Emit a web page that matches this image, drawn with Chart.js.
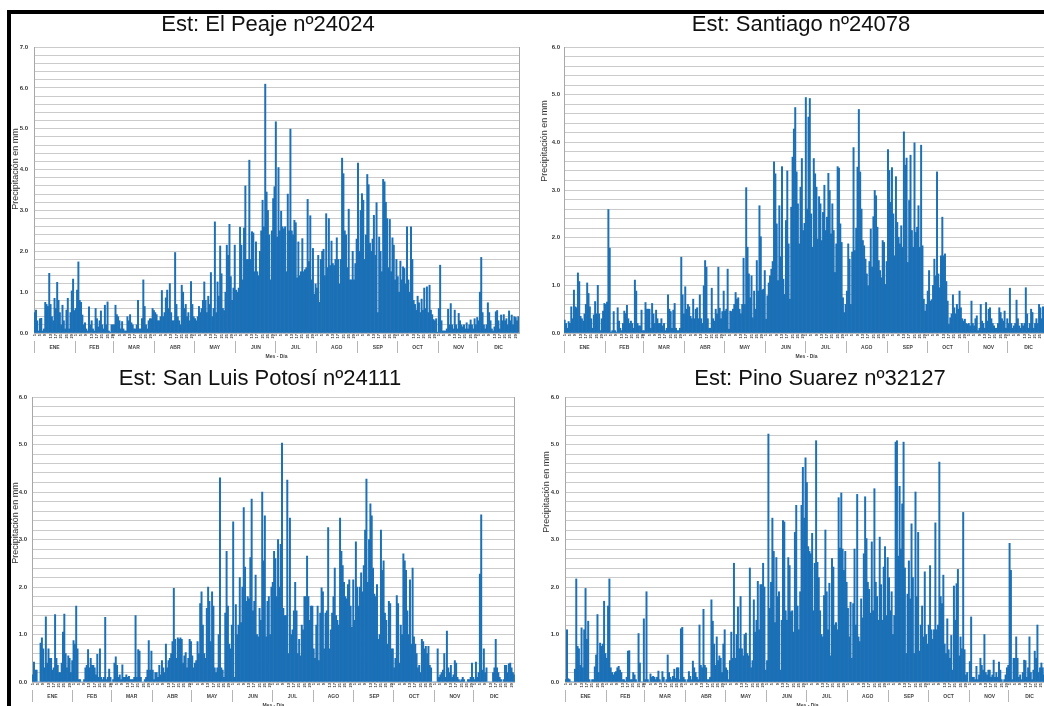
<!DOCTYPE html>
<html><head><meta charset="utf-8">
<script src="https://cdn.jsdelivr.net/npm/chart.js@4.4.1/dist/chart.umd.min.js"></script>
<style>
html,body{margin:0;padding:0;background:#fff;}
body{width:1044px;height:706px;overflow:hidden;position:relative;font-family:'Liberation Sans',Arial,sans-serif;}
canvas{position:absolute;}
.frame{position:absolute;left:7px;top:10px;width:1100px;height:800px;border-top:4px solid #000;border-left:4px solid #000;pointer-events:none;}
.ytitle{position:absolute;font-size:9px;color:#333;white-space:nowrap;transform:translate(-50%,-50%) rotate(-90deg);}
</style></head><body>
<canvas id="c1"></canvas><canvas id="c2"></canvas><canvas id="c3"></canvas><canvas id="c4"></canvas>
<div class="ytitle" id="t1">Precipitación en mm</div>
<div class="ytitle" id="t2">Precipitación en mm</div>
<div class="ytitle" id="t3">Precipitación en mm</div>
<div class="ytitle" id="t4">Precipitación en mm</div>
<div class="frame"></div>
<script>
// ---- categories ----
const monthNames = ['ENE','FEB','MAR','ABR','MAY','JUN','JUL','AGO','SEP','OCT','NOV','DIC'];
const monthLengths = [31,29,31,30,31,30,31,31,30,31,30,31];
const shownDays = [1,5,9,13,17,21,25,29];
const stationTitles = ['Est: El Peaje nº24024','Est: Santiago nº24078','Est: San Luis Potosí nº24111','Est: Pino Suarez nº32127'];
const yAxisTitle = 'Precipitación en mm';
const xAxisTitle = 'Mes - Día';
const yMaxValues = [7, 6, 6, 6];

// ---- series values (mm per day, 366 days) ----
const elPeaje = [
/*ENE*/0.5,0.56,0.3,0.05,0.35,0.36,0.05,0.1,0.75,0.7,0.65,1.46,0.7,0.4,0.3,0.85,0.6,1.24,0.8,0.5,0.2,0.68,0.3,0.1,0.56,0.85,0.1,0.5,1.03,1.32,0.55,
/*FEB*/0.6,1.05,1.74,0.8,0.75,0.44,0.2,0.25,0.1,0.05,0.64,0.2,0.3,0.1,0.05,0.6,0.35,0.15,0.3,0.54,0.2,0.1,0.68,0.2,0.76,0.05,0.02,0.2,0.2,
/*MAR*/0.2,0.68,0.45,0.4,0.3,0.1,0.28,0.1,0.05,0.05,0.4,0.3,0.45,0.25,0.2,0.1,0.1,0.2,0.8,0.1,0.1,0.35,1.3,0.65,0.2,0.1,0.3,0.35,0.35,0.6,0.55,
/*ABR*/0.5,0.45,0.3,0.3,0.4,1.04,0.4,0.5,0.86,1.05,0.6,1.21,0.5,0.3,0.3,1.97,0.7,0.4,0.3,0.2,1.17,1.0,0.6,0.7,0.4,0.5,0.3,1.26,0.7,0.4,
/*MAY*/0.35,0.3,0.4,0.65,0.5,0.6,0.8,1.25,0.8,0.5,0.9,0.7,1.48,0.4,0.6,2.72,0.5,1.25,0.9,2.13,1.45,0.6,0.55,1.0,2.15,1.9,2.66,1.38,0.8,1.1,2.15,
/*JUN*/1.05,1.0,1.1,2.59,2.15,1.3,2.57,3.6,1.8,1.8,4.23,1.8,2.48,2.45,1.5,2.23,1.5,1.4,2.0,2.5,3.25,2.6,6.09,3.45,3.0,2.4,1.3,2.5,3.29,3.58,
/*JUL*/5.17,2.35,4.05,2.5,2.98,2.6,2.55,2.6,1.5,3.4,2.5,4.99,2.5,2.4,2.76,2.7,1.35,2.23,1.4,1.5,2.31,1.5,1.55,1.6,3.27,1.75,2.87,1.3,2.07,0.95,1.2,
/*AGO*/1.1,1.9,0.75,1.8,2.0,2.05,1.4,2.92,1.6,2.8,1.65,2.25,1.7,1.65,1.8,2.33,1.8,1.2,1.8,4.28,3.9,2.5,2.4,1.6,3.03,1.3,1.3,2.0,1.3,1.7,2.3,
/*SEP*/4.16,2.0,3.0,3.41,3.25,1.8,2.4,3.88,3.63,2.2,2.0,2.3,2.88,1.9,3.19,0.5,2.35,2.0,1.5,3.76,3.7,3.2,2.8,1.6,2.78,1.5,2.33,2.15,1.3,1.8,
/*OCT*/1.38,1.0,1.76,1.3,1.62,1.58,1.2,2.6,1.3,1.0,2.6,1.8,0.8,0.7,0.56,0.9,0.74,0.5,0.83,0.56,1.1,0.6,1.13,0.5,1.17,0.56,0.45,0.33,0.3,0.35,0.02,
/*NOV*/0.6,1.66,0.3,0.05,0.05,0.05,0.1,0.58,0.2,0.72,0.2,0.1,0.56,0.2,0.1,0.48,0.3,0.2,0.15,0.2,0.1,0.25,0.1,0.2,0.32,0.2,0.1,0.35,0.2,0.38,
/*DIC*/0.3,1.0,1.85,0.5,0.2,0.1,0.2,0.74,0.5,0.3,0.1,0.05,0.15,0.52,0.55,0.3,0.1,0.44,0.3,0.45,0.3,0.35,0.2,0.54,0.3,0.44,0.2,0.4,0.38,0.3,0.4
];
const santiago = [
/*ENE*/0.27,0.2,0.1,0.24,0.2,0.55,0.3,0.9,0.55,0.53,1.26,1.08,0.35,0.3,0.25,0.4,0.6,1.05,0.83,0.55,0.3,0.1,0.38,0.66,0.4,1.0,0.4,0.05,0.3,0.46,0.62,
/*FEB*/0.6,0.65,2.59,1.78,0.02,0.05,0.45,0.05,0.02,0.53,0.25,0.1,0.05,0.2,0.46,0.41,0.58,0.3,0.2,0.25,0.2,0.1,1.11,0.88,0.2,0.15,0.15,0.48,0.05,
/*MAR*/0.05,0.64,0.5,0.5,0.5,0.1,0.62,0.4,0.2,0.48,0.3,0.2,0.2,0.3,0.15,0.2,0.05,0.1,0.8,0.5,0.45,0.1,0.48,0.62,0.1,0.05,0.05,0.1,1.59,0.8,0.4,
/*ABR*/0.97,0.5,0.6,0.55,0.35,0.3,0.71,0.3,0.5,0.53,0.3,0.8,0.3,0.2,0.99,1.52,1.38,0.3,0.1,0.1,0.94,0.3,0.25,0.5,0.4,1.38,0.52,0.3,0.45,0.88,
/*MAY*/0.46,0.5,1.34,0.08,0.46,0.45,0.5,0.6,0.85,0.71,0.74,0.5,0.4,0.6,1.57,0.6,3.05,1.8,1.24,0.74,1.2,0.32,0.88,0.5,1.52,0.88,2.67,2.02,0.9,0.92,1.31,
/*JUN*/0.29,0.78,1.05,1.2,1.34,1.5,3.59,3.34,2.29,1.1,2.67,1.6,3.49,1.13,0.81,2.36,3.4,1.87,0.71,2.64,3.69,4.28,4.73,3.38,2.71,1.87,3.06,3.66,2.15,2.3,
/*JUL*/4.94,2.6,4.53,4.92,2.5,1.8,3.66,3.34,3.06,1.97,2.86,2.71,1.94,2.53,3.1,2.15,2.43,3.35,2.99,2.08,2.71,2.15,1.27,1.87,3.49,3.46,2.29,1.9,0.74,0.43,0.6,
/*AGO*/0.88,1.87,1.55,0.6,1.7,3.89,1.73,2.2,3.48,4.69,3.38,2.6,1.94,1.83,1.55,1.24,0.99,1.5,2.18,1.38,2.44,2.99,2.88,2.22,1.52,1.31,1.16,1.94,1.9,1.02,1.5,
/*SEP*/3.85,3.41,2.74,3.47,2.5,1.62,3.28,2.32,2.01,1.87,2.25,1.8,4.22,3.52,3.67,1.48,2.78,3.73,2.15,1.8,3.99,2.11,2.22,2.67,1.8,3.94,1.83,0.71,0.46,0.6,
/*OCT*/0.88,1.31,0.67,0.7,1.0,1.55,1.2,3.38,1.24,0.95,1.62,2.43,1.62,1.66,1.08,0.67,0.18,0.32,0.4,0.8,0.53,0.4,0.6,0.5,0.88,0.53,0.3,0.25,0.29,0.2,0.18,
/*NOV*/0.2,0.15,0.67,0.2,0.15,0.3,0.36,0.05,0.1,0.6,0.25,0.2,0.1,0.64,0.25,0.5,0.53,0.3,0.2,0.15,0.1,0.1,0.2,0.53,0.43,0.3,0.25,0.46,0.1,0.3,
/*DIC*/0.2,0.94,0.2,0.1,0.15,0.2,0.69,0.3,0.15,0.1,0.2,0.15,0.2,0.95,0.4,0.1,0.2,0.5,0.43,0.1,0.2,0.3,0.2,0.6,0.53,0.3,0.55,0.4,0.3,0.5,0.3
];
const sanLuisPotosi = [
0.15,0.42,0.25,0.25,0,0,0.82,0.93,0.7,0.3,
1.37,0.4,0.7,0.5,0.5,0.25,0.3,1.42,0.5,0.35,0.2,
0.2,0.4,1.05,1.43,0.6,0.3,0.55,0.5,0.2,0.45,
0.87,0.8,1.6,0.7,0.05,0.05,0,0,0.05,0.3,
0.35,0.68,0.3,0.5,0.35,0.35,0.3,0.15,0.58,0.1,
0.7,0.1,0.05,0.1,1.36,0.05,0.1,0.27,0.1,0,
0.05,
0.4,0.53,0.35,0.1,0.15,0.05,0.36,0.1,0.1,0.15,
0.1,0.12,0.05,0.05,0.05,0.1,1.4,0.1,0.68,0.65,
0.1,0,0,0.05,0.1,0.25,0.87,0.25,0.65,0.25,
0.05,
0.2,0.2,0.1,0.35,0.15,0.45,0.3,0.2,0.8,0.3,0.45,
0.5,0.6,0.85,1.97,0.9,0.5,0.93,0.9,0.93,0.9,
0.4,0.55,0.62,0.3,0.5,0.9,0.85,0.55,0.3,0.4,
0.45,0.85,0.6,1.65,1.9,1.2,0.6,0.5,1.55,2.0,
1.7,0.85,1.9,1.6,0.3,0.2,0.3,1.0,4.3,0.3,
0.25,0.1,1.45,2.75,1.6,0.8,0.7,1.2,3.37,0.1,
1.63,1.0,1.2,2.2,1.25,2.0,3.67,2.42,1.7,1.8,
1.75,2.62,3.85,1.5,1.7,2.25,1.0,0.95,1.55,1.3,
4.0,2.55,3.5,0.95,1.7,1.8,1.0,2.0,2.1,2.75,
2.6,1.8,3.0,2.0,2.9,5.03,1.55,1.4,1.4,4.25,
0.6,3.45,1.0,1.1,1.5,2.1,1.5,0.6,0.9,0.55,
1.2,
1.1,1.8,1.8,2.65,1.8,1.3,1.6,1.6,0.7,0.5,
1.2,1.6,0.45,1.45,1.98,1.9,0.7,1.45,1.5,3.25,
0.7,1.1,1.45,1.8,2.4,1.4,1.3,1.2,3.45,2.75,
2.45,2.1,1.8,1.75,2.05,2.15,1.6,1.15,2.15,1.3,
2.95,2.0,1.6,2.0,2.3,1.9,2.45,3.2,4.27,2.1,3.0,
3.75,3.5,2.4,1.85,1.8,2.05,0.9,1.0,3.2,2.35,
2.55,1.45,1.3,0.8,1.7,1.65,0.7,0.7,0.3,0.5,
1.82,1.65,0.4,1.2,1.0,2.7,2.55,2.35,1.5,1.0,
2.15,0.8,2.4,0.95,0.8,0.6,0.3,0.35,0.2,0.9,
0.85,0.7,0.75,0.6,0.75,0.35,0.3,0,0,0,
0,
0.7,0.1,0.15,0.2,0.25,0.6,0.1,1.07,0.3,0.2,
0.35,0.1,0.15,0.45,0.4,0.1,0.05,0.02,0.05,0.1,
0.05,
0,0,0.05,0.05,0.1,0.4,0.1,0.05,0.42,0.1,
0.2,2.27,3.52,0.25,0.7,0.2,0.3,0,0,0,
0,0.2,0.3,0.9,0.3,0.2,0.1,0.05,0,0.05,
0.35,0.35,0.2,0.38,0.4,0.3,0.2,0.15
];
const pinoSuarez = [
0.05,1.1,0.07,0.05,0,0,0,0.27,2.17,0.75,
0.7,0.35,1.14,0.3,1.1,1.97,0.9,1.28,0.05,0,
0.05,0.05,0.32,0.57,1.42,0.2,0.82,0.75,0.8,1.7,
0.6,0.5,1.6,2.17,0.3,0.2,0.15,0.2,0.22,0.3,
0.33,0.25,0.2,0.05,0.05,0.02,0.1,0.65,0.66,0.05,
0.05,0.2,0.15,0.05,0,1.02,0.4,0,0,1.33,
0.05,1.9,0.05,0,0.17,0.1,0.12,0.1,0.05,0.1,
0.23,0.05,0,0.22,0.1,0,0.05,0.57,0.2,0.1,
0.05,0.12,0.27,0.08,0.3,0.3,0.05,1.12,1.15,0.1,
0.05,0,0.05,0.22,0.12,0.05,0.44,0.3,0.2,0.1,
0.05,1.2,0.35,0.3,1.53,0.35,0.3,0.05,0.05,0.1,
1.73,1.28,0.8,0.35,0.95,0.45,0.55,0.5,0.2,0.8,
1.1,0.3,0.25,0.05,0.45,1.05,0.5,2.5,0.5,1.0,
1.58,0.7,1.8,0.7,0.55,1.0,1.03,0.6,0.55,2.4,
0.3,0.45,1.73,1.05,1.3,2.12,1.1,2.05,2.05,2.5,
2.0,0.25,0.45,5.22,1.55,2.1,3.45,2.75,1.25,2.62,
1.8,1.9,0.25,1.3,3.4,3.37,1.5,1.3,2.62,2.45,
1.48,1.5,1.05,3.15,3.72,1.6,1.1,1.9,3.72,4.52,
3.45,4.72,4.2,2.85,2.75,2.7,3.13,1.5,2.5,5.08,
2.52,2.2,1.5,1.0,0.95,1.82,3.2,1.9,1.1,2.08,0.55,
2.6,2.42,1.2,1.25,1.1,3.88,2.82,3.98,2.8,2.35,
2.75,2.1,1.55,0.95,1.68,0.5,1.65,2.8,1.2,3.95,
0.95,0.85,1.75,1.35,2.7,3.9,3.02,2.1,1.95,1.45,
2.95,1.5,4.07,2.1,1.8,1.3,3.05,2.05,1.3,2.42,
2.85,1.4,2.62,2.2,1.5,1.9,1.0,1.4,5.05,5.08,
2.65,4.12,2.8,3.75,5.05,2.4,0.6,1.85,2.55,1.75,
3.33,2.2,0.6,4.0,1.8,3.15,0.65,1.2,1.6,0.95,
2.32,1.0,0.8,1.2,2.45,1.1,0.9,1.1,3.35,1.1,1.2,
4.63,1.8,1.65,2.25,0.8,0.6,1.33,0.68,0.5,0.98,
0.25,2.02,1.3,2.07,2.37,0.55,0.95,0.7,3.57,0.68,
0.15,0.2,0,0.43,1.37,0.1,0.1,0.05,0.33,0.05,
0.15,0.5,0.35,0.25,1.0,0.2,0.15,0.25,0.25,0.1,
0.15,0.46,0.1,0.2,0.1,0.42,0.25,0.05,0,0.05,
0.15,0.3,0.35,2.92,2.35,0.05,0.5,0.5,0.95,0.5,
0.1,0.15,0.05,0.2,0.46,0.45,0.1,0.3,0.95,0.2,
0.05,0.25,0.65,0.5,1.2,0.2,0.3,0.4,
0.3,0.15,0.5,0.2,0.1,0.35
];

// ---- derived category structures ----
const dayLabels = [], monthStartIdx = [], monthMidLabel = {};
(function(){
  let idx = 0;
  monthLengths.forEach((len, m) => {
    monthStartIdx.push(idx);
    monthMidLabel[idx + Math.floor(len/2)] = monthNames[m];
    for (let d = 1; d <= len; d++) { dayLabels.push(String(d)); idx++; }
  });
})();
const dayOfMonth = dayLabels.map(Number);

Chart.defaults.font.family = "'Liberation Sans', Arial, sans-serif";

function yTicks(max){ const a=[]; for(let i=0;i<=Math.round(max*5);i++) a.push(Math.round(i*2)/10); return a; }

const panels = [
  {id:'c1', t:'t1', data: elPeaje,       max: yMaxValues[0], left:0,   top:0,   width:536, height:362, yW:34, rW:17,  tPad:{top:11.8,bottom:8.8}, tickPad:6, yt:{x:14.5,y:169}},
  {id:'c2', t:'t2', data: santiago,      max: yMaxValues[1], left:520, top:0,   width:562, height:362, yW:44, rW:33,  tPad:{top:11.8,bottom:8.8}, tickPad:4, yt:{x:543.5,y:141}},
  {id:'c3', t:'t3', data: sanLuisPotosi, max: yMaxValues[2], left:0,   top:350, width:520, height:361, yW:32, rW:3,   tPad:{top:15.3,bottom:5.3}, tickPad:5, yt:{x:14.5,y:523}},
  {id:'c4', t:'t4', data: pinoSuarez,    max: yMaxValues[3], left:520, top:350, width:600, height:361, yW:45, rW:70,  tPad:{top:15.3,bottom:5.3}, tickPad:6, yt:{x:545.5,y:492}}
];

panels.forEach((p, i) => {
  const cv = document.getElementById(p.id);
  cv.width = p.width; cv.height = p.height;
  cv.style.left = p.left + 'px'; cv.style.top = p.top + 'px';
  cv.style.width = p.width + 'px'; cv.style.height = p.height + 'px';
  const tt = document.getElementById(p.t);
  tt.style.left = p.yt.x + 'px'; tt.style.top = p.yt.y + 'px';
  tt.textContent = yAxisTitle;

  new Chart(cv.getContext('2d'), {
    type: 'bar',
    data: {
      labels: dayLabels,
      datasets: [{
        data: p.data,
        backgroundColor: '#1b70b6',
        borderWidth: 0,
        barPercentage: 1,
        categoryPercentage: 1,
        xAxisID: 'x', yAxisID: 'y'
      }]
    },
    options: {
      responsive: false,
      animation: false,
      events: [],
      layout: { padding: 0 },
      plugins: {
        legend: { display: false },
        tooltip: { enabled: false },
        title: {
          display: true, text: stationTitles[i],
          font: { size: 22, weight: 'normal' }, color: '#111',
          padding: p.tPad
        }
      },
      scales: {
        y: {
          type: 'linear', position: 'left', min: 0, max: p.max,
          afterBuildTicks: s => { s.ticks = yTicks(p.max).map(v => ({ value: v })); },
          afterFit: s => { s.width = p.yW; },
          ticks: {
            autoSkip: false, padding: p.tickPad, color: '#333',
            font: { size: 6, weight: 'bold' },
            callback: v => Math.abs(v - Math.round(v)) < 1e-6 ? Number(v).toFixed(1) : ''
          },
          grid: { color: '#cbcbcb', lineWidth: 1, drawTicks: false },
          border: { color: '#a8a8a8' }
        },
        yr: {
          type: 'linear', position: 'right', min: 0, max: 1,
          afterFit: s => { s.width = p.rW; },
          ticks: { display: false },
          grid: { display: false, drawTicks: false },
          border: { display: true, color: '#a8a8a8' }
        },
        x: {
          type: 'category', position: 'bottom', weight: 0, offset: true,
          afterFit: s => { s.height = 8; },
          ticks: {
            display: true, autoSkip: false, maxRotation: 90, minRotation: 90, padding: 1,
            font: { size: 4, weight: 'bold' }, color: '#333',
            callback: function(v, idx) { return shownDays.includes(dayOfMonth[idx]) ? dayLabels[idx] : ''; }
          },
          grid: { display: false, drawTicks: false },
          border: { display: true, color: '#bbbbbb' }
        },
        xm: {
          type: 'category', position: 'bottom', weight: 1, offset: true,
          afterFit: s => { s.height = 21; },
          ticks: {
            autoSkip: false, minRotation: 0, maxRotation: 0, padding: -8.5,
            font: { size: 5, weight: 'bold' }, color: '#444',
            callback: (v, idx) => monthMidLabel[idx] || ''
          },
          grid: {
            offset: true, drawOnChartArea: false, drawTicks: true, tickLength: 12, lineWidth: 1,
            color: ctx => monthStartIdx.includes(ctx.index) ? '#b5b5b5' : 'rgba(0,0,0,0)'
          },
          border: { display: false },
          title: { display: true, text: xAxisTitle, font: { size: 5, weight: 'bold' }, color: '#444', padding: { top: 2, bottom: 2 } }
        }
      }
    }
  });
});
</script>
</body></html>
